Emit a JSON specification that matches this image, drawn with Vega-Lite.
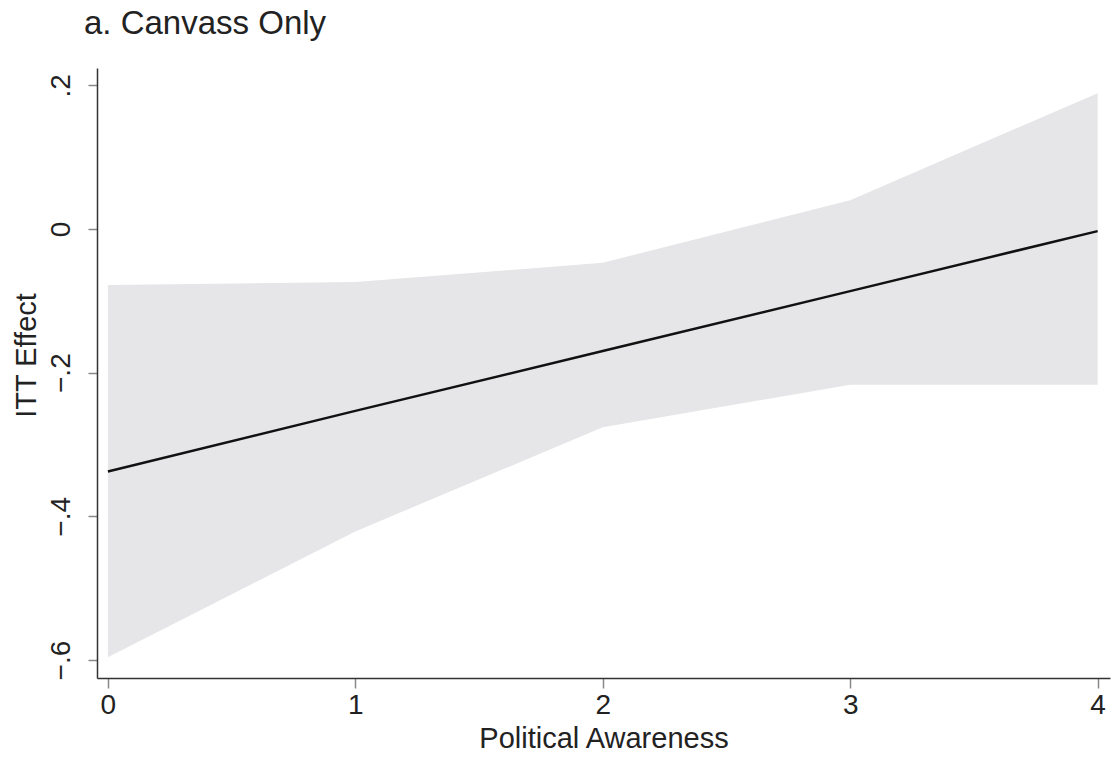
{
  "$schema": "https://vega.github.io/schema/vega-lite/v6.json",
  "autosize": "none",
  "width": 1013,
  "height": 610,
  "padding": {"left": 97, "top": 68, "right": 8, "bottom": 79},
  "background": "white",
  "title": {"text": "a. Canvass Only", "anchor": "start", "frame": "group", "dx": -13, "offset": 27, "fontSize": 33, "font": "Liberation Sans", "fontWeight": "normal", "color": "#222222"},
  "config": {"view": {"stroke": null}, "font": "Liberation Sans"},
  "data": {"values": [
    {"awareness": 0, "effect": -0.3375, "lo": -0.596, "hi": -0.078},
    {"awareness": 1, "effect": -0.2532, "lo": -0.421, "hi": -0.074},
    {"awareness": 2, "effect": -0.170, "lo": -0.276, "hi": -0.047},
    {"awareness": 3, "effect": -0.0865, "lo": -0.217, "hi": 0.040},
    {"awareness": 4, "effect": -0.003, "lo": -0.217, "hi": 0.189}
  ]},
  "layer": [
    {
      "mark": {"type": "area", "color": "#e6e6e8", "opacity": 1},
      "encoding": {
        "x": {"field": "awareness", "type": "quantitative", "scale": {"domain": [-0.044, 4.05], "nice": false, "zero": false},
          "axis": {"values": [0, 1, 2, 3, 4], "format": "d", "title": "Political Awareness", "grid": false, "domainColor": "#333333", "domainWidth": 1.5, "tickColor": "#888888", "tickSize": 10, "tickWidth": 1.5, "labelFontSize": 28, "labelColor": "#222222", "labelPadding": 3, "titleFontSize": 29, "titleFontWeight": "normal", "titleColor": "#222222", "titlePadding": 5, "labelFont": "Liberation Sans", "titleFont": "Liberation Sans"}},
        "y": {"field": "lo", "type": "quantitative", "scale": {"domain": [-0.625, 0.224], "nice": false, "zero": false},
          "axis": {"values": [-0.6, -0.4, -0.2, 0, 0.2], "labelExpr": "datum.value == 0 ? '0' : replace(format(datum.value, '.1f'), '0.', '.')", "title": "ITT Effect", "grid": false, "domainColor": "#333333", "domainWidth": 1.5, "tickColor": "#888888", "tickSize": 9, "tickWidth": 1.5, "labelAngle": 270, "labelAlign": "center", "labelBaseline": "bottom", "labelPadding": 13, "labelFontSize": 28, "labelColor": "#222222", "titleFontSize": 29, "titleFontWeight": "normal", "titleColor": "#222222", "titlePadding": 6, "titleY": 287, "labelFont": "Liberation Sans", "titleFont": "Liberation Sans"}},
        "y2": {"field": "hi"}
      }
    },
    {
      "mark": {"type": "line", "color": "#111111", "strokeWidth": 2.5},
      "encoding": {
        "x": {"field": "awareness", "type": "quantitative"},
        "y": {"field": "effect", "type": "quantitative"}
      }
    }
  ]
}
